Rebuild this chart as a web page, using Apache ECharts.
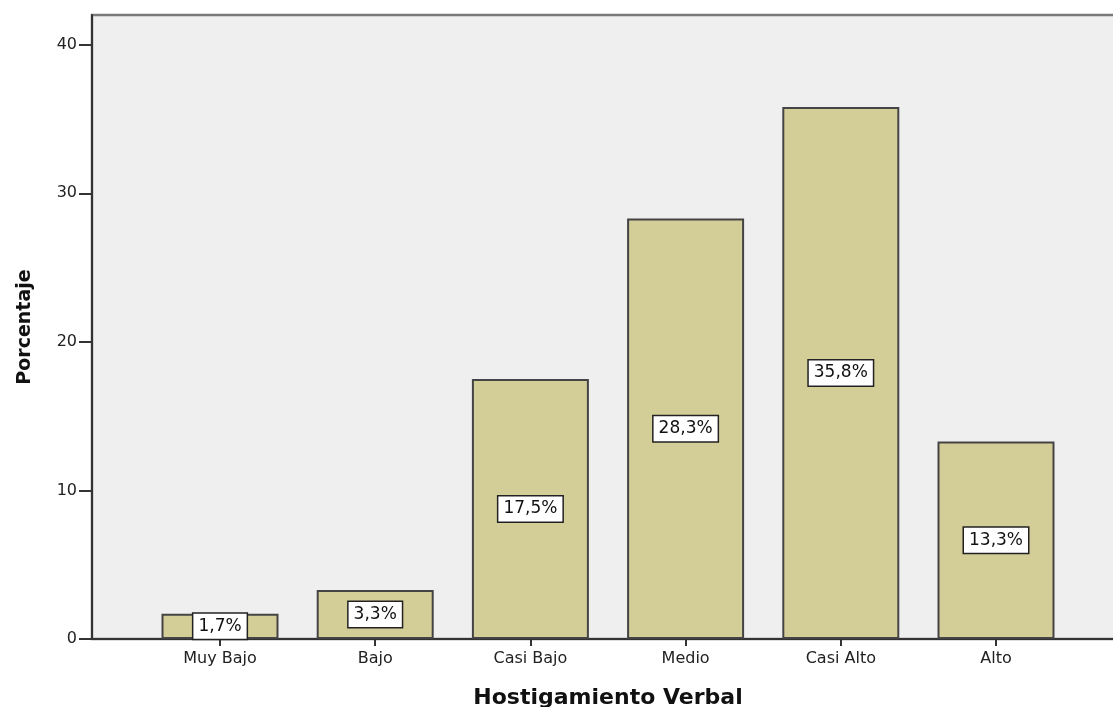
<!DOCTYPE html>
<html>
<head>
<meta charset="utf-8">
<script src="https://cdn.jsdelivr.net/npm/echarts@6/dist/echarts.min.js"></script>
<style>
html, body { margin: 0; padding: 0; background: #fff; }
#chart { width: 1113px; height: 707px; }
</style>
</head>
<body>
<div id="chart"></div>
<script>
// categorias y porcentajes
var categorias = ['Muy Bajo', 'Bajo', 'Casi Bajo', 'Medio', 'Casi Alto', 'Alto'];
var porcentajes = [1.7, 3.3, 17.5, 28.3, 35.8, 13.3];
var yTicks = [0, 10, 20, 30, 40];

var yMax = 42.0;
var fuente = 'DejaVu Sans, Verdana, sans-serif';

var chart = echarts.init(document.getElementById('chart'));

var option = {
	animation: false,
	backgroundColor: '#ffffff',
	grid: [
		// marco de fondo, llega hasta el borde derecho
		{
			left: 92, top: 15, right: -6, bottom: 68,
			outerBoundsMode: 'none',
			containLabel: false,
			show: true,
			backgroundColor: '#efefef',
			borderColor: '#7a7a7a',
			borderWidth: 2.5
		},
		// zona de las barras
		{
			left: 142.4, top: 15, width: 931.2, bottom: 68,
			outerBoundsMode: 'none',
			containLabel: false
		}
	],
	xAxis: [
		{
			gridIndex: 0,
			type: 'value',
			min: 0, max: 1,
			axisLine: { show: true, lineStyle: { color: '#333', width: 2 } },
			axisTick: { show: false },
			axisLabel: { show: false },
			splitLine: { show: false }
		},
		{
			gridIndex: 1,
			type: 'category',
			data: categorias,
			axisLine: { show: false },
			axisTick: { show: true, alignWithLabel: true, length: 7, lineStyle: { color: '#333', width: 2 } },
			axisLabel: { color: '#222', fontSize: 16, fontFamily: fuente, margin: 12 },
			name: 'Hostigamiento Verbal',
			nameLocation: 'middle',
			nameGap: 48,
			nameTextStyle: { color: '#111', fontSize: 22, fontWeight: 'bold', fontFamily: fuente }
		}
	],
	yAxis: [
		{
			gridIndex: 0,
			type: 'value',
			min: 0, max: yMax,
			interval: 10,
			axisLine: { show: true, lineStyle: { color: '#333', width: 2 } },
			axisTick: { show: true, length: 13, customValues: yTicks, lineStyle: { color: '#333', width: 2 } },
			axisLabel: {
				color: '#222', fontSize: 16, fontFamily: fuente, margin: 15,
				customValues: yTicks,
				formatter: function (v) { return yTicks.indexOf(v) >= 0 ? String(v) : ''; }
			},
			splitLine: { show: false },
			name: 'Porcentaje',
			nameLocation: 'middle',
			nameGap: 57,
			nameRotate: 90,
			nameTextStyle: { color: '#111', fontSize: 19, fontWeight: 'bold', fontFamily: fuente }
		},
		{
			gridIndex: 1,
			type: 'value',
			min: 0, max: yMax,
			show: false
		}
	],
	series: [
		{
			type: 'bar',
			xAxisIndex: 1,
			yAxisIndex: 1,
			data: porcentajes,
			barWidth: 117,
			itemStyle: {
				color: '#d3cd97',
				borderColor: '#444',
				borderWidth: 2
			},
			label: {
				show: true,
				position: 'inside',
				formatter: function (p) { return p.value.toFixed(1).replace('.', ',') + '%'; },
				color: '#111',
				fontSize: 17,
				fontFamily: fuente,
				backgroundColor: '#ffffff',
				borderColor: '#222',
				borderWidth: 1.5,
				padding: [4, 5, 4, 5]
			}
		}
	]
};

chart.setOption(option);
</script>
</body>
</html>
